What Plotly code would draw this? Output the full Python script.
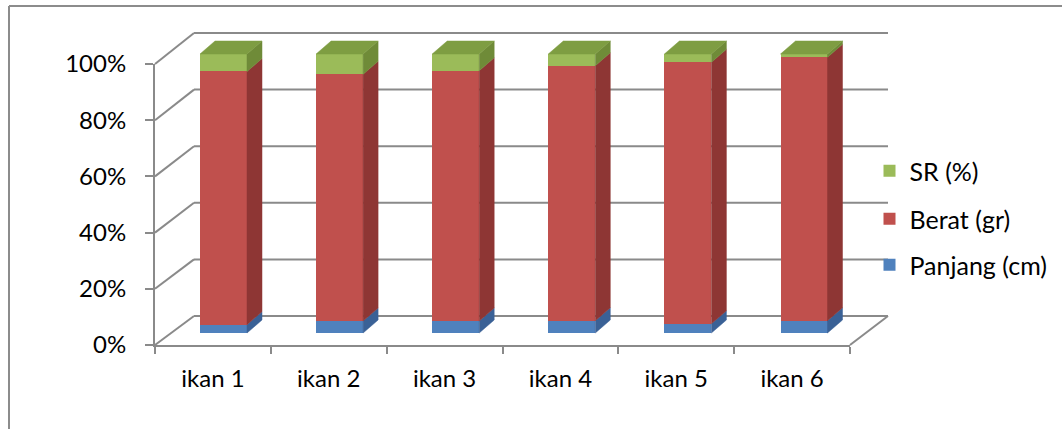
import numpy as np
import plotly.graph_objects as go

# ---------------- data ----------------
categories = ["ikan 1", "ikan 2", "ikan 3", "ikan 4", "ikan 5", "ikan 6"]
panjang = [3.0, 4.3, 4.3, 4.4, 3.3, 4.4]      # Panjang (cm) share
berat = [90.7, 88.4, 89.7, 91.4, 93.7, 94.4]  # Berat (gr) share
sr = [6.3, 7.3, 6.0, 4.2, 3.0, 1.2]           # SR (%) share
y_ticks = [0, 20, 40, 60, 80, 100]
y_tick_labels = ["0%", "20%", "40%", "60%", "80%", "100%"]

# ---------------- geometry / style ----------------
W, H = 1062, 429
FONT = "Lato"
GRAY = "#8a8a8a"

def px(x):
    return x / W

def py(y):
    return 1 - y / H

# front plane (axis) and back wall in pixels
FRONT_L, FRONT_R, FRONT_Y0, FRONT_Y100 = 155, 850, 345, 64
BACK_L, BACK_R, BACK_Y0, BACK_Y100 = 194, 888, 316, 33

# bar plane mapping
BAR_C0, BAR_STEP = 223.5, 116.1     # pixel of first bar centre, spacing
BAR_Y0, BAR_Y100 = 333, 54          # pixel of 0% and 100% on bar fronts
KY = (BAR_Y0 - BAR_Y100) / 100.0
Y_LO, Y_HI = -5, 110
bar_width = 47 / BAR_STEP
dx = 15 / BAR_STEP
dy = 13 / KY

series = [
    ("Panjang (cm)", panjang, "#4F81BD", "#3A6196", "#3A6196", "legend3"),
    ("Berat (gr)", berat, "#C0504D", "#8E3634", "#8E3634", "legend2"),
    ("SR (%)", sr, "#9BBB59", "#6F8B38", "#7E9D42", "legend"),
]

vals = np.array([s[1] for s in series], dtype=float)
shares = vals / vals.sum(axis=0) * 100.0
bases = np.vstack([np.zeros(len(categories)), np.cumsum(shares, axis=0)[:-1]])
idx = np.arange(len(categories))

fig = go.Figure()

for k, (name, _, front, side, top, leg) in enumerate(series):
    fig.add_trace(go.Bar(
        x=idx, y=shares[k], name=name, width=bar_width,
        marker=dict(color=front, line=dict(width=0)),
        legend=leg, hoverinfo="skip",
    ))

for k, (name, _, front, side, top, leg) in enumerate(series):
    xs, ys = [], []
    for i in idx:
        xr = i + bar_width / 2
        b, t = bases[k][i], bases[k][i] + shares[k][i]
        xs += [xr, xr + dx, xr + dx, xr, xr, None]
        ys += [b, b + dy, t + dy, t, b, None]
    fig.add_trace(go.Scatter(
        x=xs, y=ys, mode="lines", fill="toself", fillcolor=side,
        line=dict(color=side, width=0.5), showlegend=False, hoverinfo="skip",
    ))

# top faces of the stacks
name, _, front, side, top, leg = series[-1]
xs, ys = [], []
for i in idx:
    xl, xr = i - bar_width / 2, i + bar_width / 2
    t = bases[-1][i] + shares[-1][i]
    xs += [xl, xl + dx, xr + dx, xr, xl, None]
    ys += [t, t + dy, t + dy, t, t, None]
fig.add_trace(go.Scatter(
    x=xs, y=ys, mode="lines", fill="toself", fillcolor=top,
    line=dict(color=top, width=0.5), showlegend=False, hoverinfo="skip",
))

# dummy trace creating the front-axis subplot
fig.add_trace(go.Scatter(
    x=categories, y=[0] * len(categories), xaxis="x2", yaxis="y2",
    mode="markers", marker=dict(opacity=0), showlegend=False, hoverinfo="skip",
))

# ---------------- walls / gridlines ----------------
shapes = []
def line(x0, y0, x1, y1, color=GRAY, width=2):
    shapes.append(dict(type="line", xref="paper", yref="paper",
                       x0=px(x0), y0=py(y0), x1=px(x1), y1=py(y1),
                       line=dict(color=color, width=width), layer="below"))

for v in y_ticks:
    yf = FRONT_Y0 - (FRONT_Y0 - FRONT_Y100) * v / 100
    yb = BACK_Y0 - (BACK_Y0 - BACK_Y100) * v / 100
    line(FRONT_L, yf, BACK_L, yb)
    line(BACK_L, yb, BACK_R, yb)
line(FRONT_R, FRONT_Y0, BACK_R, BACK_Y0)
# outer chart border
line(9, 6, 1070, 6, color="#8c8c8c", width=2)
line(9, 6, 9, 440, color="#8c8c8c", width=2)

x_lo = (0 - BAR_C0) / BAR_STEP
x_hi = (W - BAR_C0) / BAR_STEP
pix_lo = BAR_Y0 + (0 - Y_LO) * KY
pix_hi = BAR_Y100 - (Y_HI - 100) * KY

legend_common = dict(xanchor="left", yanchor="middle", bgcolor="rgba(0,0,0,0)",
                     font=dict(family=FONT, size=25, color="#000000"),
                     x=px(869.5))

fig.update_layout(
    width=W, height=H,
    margin=dict(l=0, r=0, t=0, b=0, autoexpand=False),
    paper_bgcolor="white", plot_bgcolor="rgba(0,0,0,0)",
    barmode="stack", bargap=0,
    font=dict(family=FONT, size=24, color="#000000"),
    shapes=shapes,
    xaxis=dict(domain=[0, 1], range=[x_lo, x_hi], visible=False, fixedrange=True),
    yaxis=dict(domain=[py(pix_lo), py(pix_hi)], range=[Y_LO, Y_HI],
               visible=False, fixedrange=True),
    xaxis2=dict(domain=[px(FRONT_L), px(FRONT_R)], range=[-0.5, 5.5],
                type="category", categoryorder="array", categoryarray=categories,
                anchor="y2", showline=True, linecolor=GRAY, linewidth=2,
                ticks="outside", tickson="boundaries", ticklen=7, tickwidth=2,
                tickcolor=GRAY, showgrid=False, zeroline=False,
                tickfont=dict(family=FONT, size=24, color="#000000"),
                ticklabelstandoff=11, fixedrange=True),
    yaxis2=dict(domain=[py(FRONT_Y0), py(FRONT_Y100)], range=[0, 100],
                anchor="x2", tickvals=y_ticks, ticktext=y_tick_labels,
                showline=True, linecolor=GRAY, linewidth=2,
                ticks="outside", ticklen=8, tickwidth=2, tickcolor=GRAY,
                showgrid=False, zeroline=False,
                tickfont=dict(family=FONT, size=24, color="#000000"),
                ticklabelstandoff=14, fixedrange=True),
    legend=dict(y=py(171), **legend_common),
    legend2=dict(y=py(219), **legend_common),
    legend3=dict(y=py(265), **legend_common),
)

fig.write_html(
    "out.html",
    config={"displayModeBar": False},
    post_script="document.body.style.margin='0px';document.body.style.overflow='hidden';",
)
